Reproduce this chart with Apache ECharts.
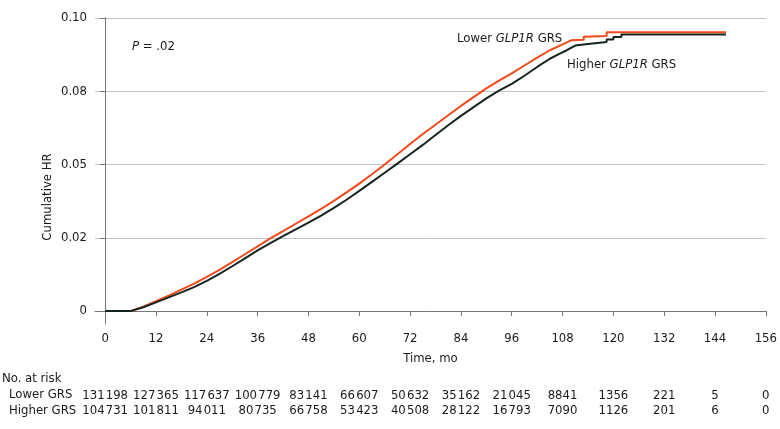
<!DOCTYPE html>
<html>
<head>
<meta charset="utf-8">
<script src="https://cdn.jsdelivr.net/npm/echarts@6/dist/echarts.min.js"></script>
<style>
  html, body { margin: 0; padding: 0; background: #fff; }
  #chart { width: 780px; height: 429px; }
</style>
</head>
<body>
<div id="chart"></div>
<script>
// time axis ticks (months)
const monthTicks = [0, 12, 24, 36, 48, 60, 72, 84, 96, 108, 120, 132, 144, 156];

// y axis ticks and their printed labels
const hrTicks = [0, 0.025, 0.05, 0.075, 0.1];
const hrTickLabels = ["0", "0.02", "0.05", "0.08", "0.10"];

// numbers at risk at each month tick
const lowerAtRisk = [131198, 127365, 117637, 100779, 83141, 66607, 50632, 35162, 21045, 8841, 1356, 221, 5, 0];
const higherAtRisk = [104731, 101811, 94011, 80735, 66758, 53423, 40508, 28122, 16793, 7090, 1126, 201, 6, 0];

// cumulative hazard, lower GLP1R GRS  [month, value]
const lowerCurve = [
  [0, 0], [6, 0], [9, 0.0015], [12, 0.0034], [15, 0.0053], [18, 0.0073], [21, 0.0094],
  [24, 0.0117], [27, 0.0141], [30, 0.0167], [33, 0.0194], [36, 0.0221], [39, 0.0248],
  [42, 0.0273], [45, 0.0298], [48, 0.0323], [51, 0.0349], [54, 0.0376], [57, 0.0405],
  [60, 0.0435], [63, 0.0467], [66, 0.0500], [69, 0.0535], [72, 0.0570], [75, 0.0604],
  [78, 0.0636], [81, 0.0668], [84, 0.0700], [87, 0.0730], [90, 0.0760], [93, 0.0786],
  [96, 0.0811], [99, 0.0838], [102, 0.0865], [105, 0.0890], [108, 0.0910], [110, 0.0924],
  [113, 0.0926], [113, 0.0936], [118.4, 0.0939], [118.4, 0.0951], [146.6, 0.0951]
];

// cumulative hazard, higher GLP1R GRS  [month, value]
const higherCurve = [
  [0, 0], [6, 0], [9, 0.0013], [12, 0.0030], [15, 0.0047], [18, 0.0064], [21, 0.0082],
  [24, 0.0103], [27, 0.0127], [30, 0.0153], [33, 0.0180], [36, 0.0207], [39, 0.0232],
  [42, 0.0256], [45, 0.0279], [48, 0.0302], [51, 0.0326], [54, 0.0352], [57, 0.0380],
  [60, 0.0410], [63, 0.0441], [66, 0.0472], [69, 0.0503], [72, 0.0535], [75, 0.0567],
  [78, 0.0601], [81, 0.0634], [84, 0.0666], [87, 0.0696], [90, 0.0726], [93, 0.0752],
  [96, 0.0775], [99, 0.0803], [102, 0.0833], [105, 0.0861], [107, 0.0876], [109, 0.0890],
  [111, 0.0906], [114, 0.0911], [118.4, 0.0918], [118.4, 0.0927], [120, 0.0927],
  [120, 0.0935], [121.9, 0.0935], [121.9, 0.0944], [146.6, 0.0944]
];

const FONT = '"DejaVu Sans Condensed", "Liberation Sans Narrow", Lato, sans-serif';
const TEXT = "#1a1a1a";

function fmtCount(n) {
  if (n < 10000) return String(n);
  const s = String(n);
  return s.slice(0, s.length - 3) + "\u200A" + s.slice(-3);
}

function riskAxis(values, offset) {
  return {
    type: "value",
    gridIndex: 0,
    position: "bottom",
    offset: offset,
    min: -2.4,
    max: 156,
    axisLine: { show: false },
    axisTick: { show: false },
    splitLine: { show: false },
    axisLabel: {
      customValues: monthTicks,
      fontFamily: FONT,
      fontSize: 13,
      color: TEXT,
      formatter: (v) => fmtCount(values[monthTicks.indexOf(v)])
    }
  };
}

const chart = echarts.init(document.getElementById("chart"));

const italicRich = { i: { font: "italic 13px " + FONT, fill: TEXT } };

const option = {
  animation: false,
  grid: { left: 95, right: 12, top: 18, bottom: 105 },
  xAxis: [
    {
      type: "value",
      min: -2.4,
      max: 156,
      name: "Time, mo",
      nameLocation: "middle",
      nameGap: 28,
      nameTextStyle: { fontFamily: FONT, fontSize: 13, color: TEXT },
      axisLine: { lineStyle: { color: "#777", width: 1 } },
      axisTick: { customValues: monthTicks, length: 5, lineStyle: { color: "#777" } },
      splitLine: { show: false },
      axisLabel: { customValues: monthTicks, fontFamily: FONT, fontSize: 13, color: TEXT }
    },
    riskAxis(lowerAtRisk, 57),
    riskAxis(higherAtRisk, 72)
  ],
  yAxis: {
    type: "value",
    min: -0.0044,
    max: 0.1,
    axisLine: { show: true, lineStyle: { color: "#777", width: 1 } },
    axisTick: { show: true, customValues: hrTicks, length: 5, lineStyle: { color: "#777" } },
    splitLine: { show: true, lineStyle: { color: "#c4c4c4", width: 1 } },
    axisLabel: {
      customValues: hrTicks,
      fontFamily: FONT,
      fontSize: 13,
      color: TEXT,
      formatter: (v) => hrTickLabels[hrTicks.indexOf(v)]
    }
  },
  series: [
    {
      name: "Lower GLP1R GRS",
      type: "line",
      xAxisIndex: 0,
      data: lowerCurve,
      showSymbol: false,
      lineStyle: { color: "#f04a18", width: 2 }
    },
    {
      name: "Higher GLP1R GRS",
      type: "line",
      xAxisIndex: 0,
      data: higherCurve,
      showSymbol: false,
      lineStyle: { color: "#16241f", width: 2 }
    }
  ],
  graphic: [
    {
      type: "text", x: 48, y: 197, rotation: Math.PI / 2,
      style: { text: "Cumulative HR", font: "13px " + FONT, fill: TEXT, align: "center", verticalAlign: "middle" }
    },
    {
      type: "text", x: 132, y: 47,
      style: { text: "{i|P} = .02", verticalAlign: "middle", rich: italicRich, font: "13px " + FONT, fill: TEXT }
    },
    {
      type: "text", x: 457, y: 39,
      style: { text: "Lower {i|GLP1R} GRS", verticalAlign: "middle", rich: italicRich, font: "13px " + FONT, fill: TEXT }
    },
    {
      type: "text", x: 567, y: 65,
      style: { text: "Higher {i|GLP1R} GRS", verticalAlign: "middle", rich: italicRich, font: "13px " + FONT, fill: TEXT }
    },
    {
      type: "text", x: 2, y: 379,
      style: { text: "No. at risk", font: "13px " + FONT, fill: TEXT, verticalAlign: "middle" }
    },
    {
      type: "text", x: 9, y: 395,
      style: { text: "Lower GRS", font: "13px " + FONT, fill: TEXT, verticalAlign: "middle" }
    },
    {
      type: "text", x: 9, y: 411,
      style: { text: "Higher GRS", font: "13px " + FONT, fill: TEXT, verticalAlign: "middle" }
    }
  ]
};

chart.setOption(option);
</script>
</body>
</html>
